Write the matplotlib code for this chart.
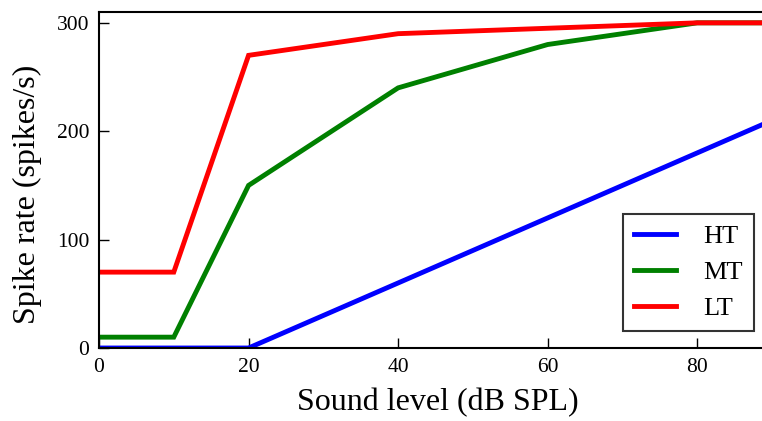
import matplotlib
matplotlib.use("Agg")
import matplotlib.pyplot as plt

# Rate-level functions for three fibre classes
sound_level = [0, 10, 20, 40, 60, 80, 100]
rate_ht = [0, 0, 0, 60, 120, 180, 240]
rate_mt = [10, 10, 150, 240, 280, 300, 300]
rate_lt = [70, 70, 270, 290, 295, 300, 300]
labels = ["HT", "MT", "LT"]
colors = ["blue", "green", "red"]

plt.rcParams["font.family"] = ["Liberation Serif", "DejaVu Serif"]

fig = plt.figure(figsize=(7.62, 4.21), dpi=100)
W, H = 762, 421
ax = fig.add_axes([99 / W, (H - 348) / H, (772 - 99) / W, (348 - 12) / H])

for y, lab, c in zip([rate_ht, rate_mt, rate_lt], labels, colors):
    ax.plot(sound_level, y, color=c, lw=3.5, label=lab, solid_joinstyle="miter")

ax.set_xlim(0, 90)
ax.set_ylim(0, 310)
ax.set_xticks([0, 20, 40, 60, 80])
ax.set_yticks([0, 100, 200, 300])
ax.tick_params(direction="in", length=7, width=1, labelsize=15.5, pad=7,
               top=False, right=False)
for s in ax.spines.values():
    s.set_linewidth(1.5)

ax.set_xlabel("Sound level (dB SPL)", fontsize=23)
ax.set_ylabel("Spike rate (spikes/s)", fontsize=23)
ax.xaxis.set_label_coords(0.504, -0.12)
ax.yaxis.set_label_coords(-0.084, 0.458)

leg = ax.legend(loc="upper left", bbox_to_anchor=(623 / W, 1 - 214 / H),
                bbox_transform=fig.transFigure, borderaxespad=0,
                fontsize=19, fancybox=False, framealpha=1, handlelength=1.6,
                handletextpad=1.05, labelspacing=0.48, borderpad=0.4)
leg.get_frame().set_edgecolor("#333333")
leg.get_frame().set_linewidth(1.5)

fig.savefig("out.png", dpi=100)
